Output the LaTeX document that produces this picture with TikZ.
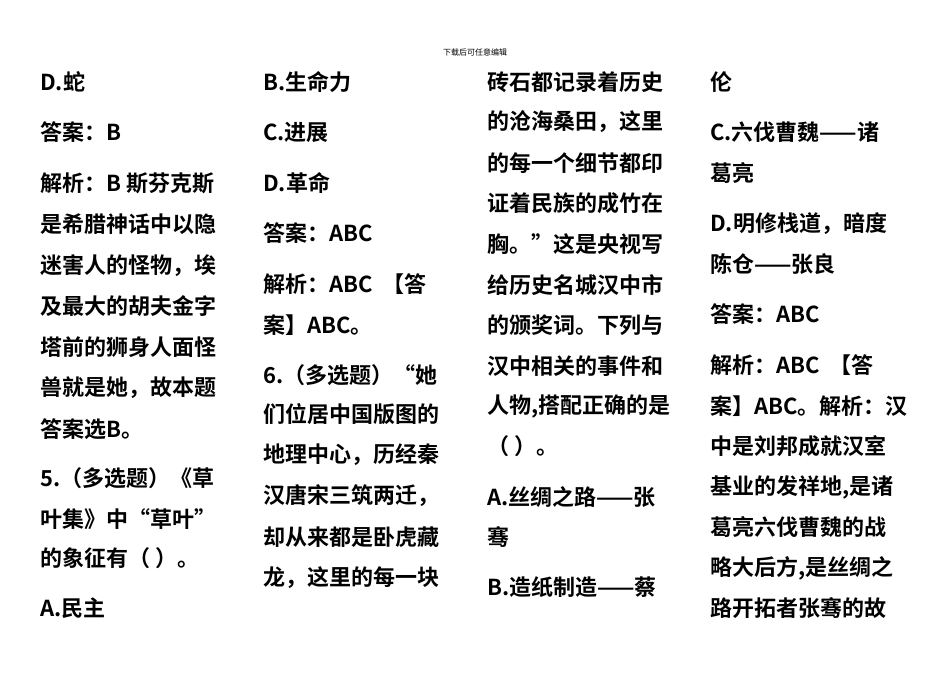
\documentclass[tikz,border=0pt]{standalone}
\usepackage{fontspec}
\setmainfont{Noto Sans CJK SC}
\newfontfamily\cjkb{Noto Sans CJK SC}[BoldFont={* Bold}]
\begin{document}
\begin{tikzpicture}[x=1pt,y=-1pt,
  ln/.style={anchor=west,inner sep=0pt,font=\cjkb\bfseries\fontsize{22}{22}\selectfont},
  hd/.style={inner sep=0pt,font=\fontsize{8}{8}\selectfont}]
\useasboundingbox[fill=white] (0,0) rectangle (950,672);
\node[hd] (head) at (475,52) {下载后可任意编辑};
\foreach \t/\y [count=\i] in {{D.蛇}/82,{答案：B}/132,{解析：B 斯芬克斯}/183,{是希腊神话中以隐}/224,{迷害人的怪物，埃}/266,{及最大的胡夫金字}/306,{塔前的狮身人面怪}/347,{兽就是她，故本题}/388,{答案选B。}/429,{5.（多选题）《草}/478,{叶集》中“草叶”}/519,{的象征有（ ）。}/558,{A.民主}/608}
  \node[ln] (a\i) at (40,\y) {\t};
\foreach \t/\y [count=\i] in {{B.生命力}/82,{C.进展}/132,{D.革命}/183,{答案：ABC}/233,{解析：ABC \ 【答}/284,{案】ABC。}/325,{6.（多选题）“她}/375,{们位居中国版图的}/414,{地理中心，历经秦}/455,{汉唐宋三筑两迁，}/496,{却从来都是卧虎藏}/537,{龙，这里的每一块}/578}
  \node[ln] (b\i) at (263,\y) {\t};
\foreach \t/\y [count=\i] in {{砖石都记录着历史}/82,{的沧海桑田，这里}/122,{的每一个细节都印}/163,{证着民族的成竹在}/203,{胸。”这是央视写}/244,{给历史名城汉中市}/285,{的颁奖词。下列与}/325,{汉中相关的事件和}/366,{人物,搭配正确的是}/406,{（ ）。}/446,{A.丝绸之路——张}/497,{骞}/537,{B.造纸制造——蔡}/587}
  \node[ln] (c\i) at (487,\y) {\t};
\foreach \t/\y [count=\i] in {{伦}/82,{C.六伐曹魏——诸}/132,{葛亮}/173,{D.明修栈道，暗度}/224,{陈仓——张良}/264,{答案：ABC}/314,{解析：ABC \ 【答}/365,{案】ABC。解析：汉}/406,{中是刘邦成就汉室}/446,{基业的发祥地,是诸}/487,{葛亮六伐曹魏的战}/527,{略大后方,是丝绸之}/568,{路开拓者张骞的故}/608}
  \node[ln] (d\i) at (710,\y) {\t};
\end{tikzpicture}
\end{document}
